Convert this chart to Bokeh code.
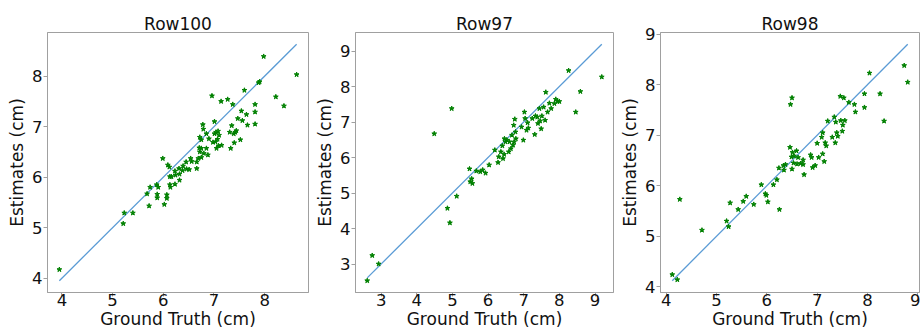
from bokeh.plotting import figure
from bokeh.layouts import row
from bokeh.models import FixedTicker, Range1d
from bokeh.embed import file_html
from bokeh.resources import INLINE

titles = ["Row100", "Row97", "Row98"]

row100_truth = [3.95, 5.21, 5.23, 5.40, 5.68, 5.72, 5.74, 5.87, 5.90, 5.88, 5.88, 5.99, 6.02, 6.07, 6.07,
                6.09, 6.12, 6.13, 6.13, 6.14, 6.16, 6.23, 6.23, 6.24, 6.31, 6.32, 6.38, 6.39, 6.45, 6.46,
                6.51, 6.32, 6.54, 6.56, 6.66, 6.66, 6.69, 6.71, 6.72, 6.72, 6.75, 6.75, 6.75, 6.78, 6.79,
                6.80, 6.85, 6.85, 6.88, 6.90, 6.96, 6.98, 7.01, 7.01, 7.03, 7.04, 7.05, 7.07, 7.08, 7.09,
                7.10, 7.14, 7.15, 7.27, 7.31, 7.33, 7.35, 7.37, 7.39, 7.40, 7.42, 7.44, 7.47, 7.52, 7.54,
                7.56, 7.60, 7.64, 7.66, 7.81, 7.81, 7.81, 7.88, 7.90, 7.98, 8.22, 8.38, 8.63]
row100_est = [4.17, 5.08, 5.29, 5.29, 5.67, 5.43, 5.80, 5.85, 5.80, 5.66, 5.59, 6.37, 5.46, 5.65, 5.58,
              6.24, 6.20, 6.01, 5.85, 5.80, 6.01, 6.12, 5.86, 6.04, 6.17, 6.06, 6.13, 6.22, 6.30, 6.16,
              6.15, 5.94, 6.37, 6.31, 6.30, 6.17, 6.37, 6.58, 6.50, 6.79, 6.74, 6.57, 6.39, 7.04, 6.95,
              6.47, 6.86, 6.57, 6.44, 6.76, 7.61, 6.69, 6.86, 7.10, 6.70, 6.89, 6.57, 6.75, 6.91, 6.62,
              6.83, 7.50, 6.63, 7.54, 6.89, 6.57, 7.02, 7.44, 6.86, 6.68, 6.89, 6.92, 7.16, 6.74, 7.31,
              7.12, 7.72, 7.24, 7.03, 7.44, 7.29, 7.05, 7.87, 7.89, 8.39, 7.59, 7.41, 8.03]

row97_truth = [2.61, 2.75, 2.93, 4.49, 4.86, 4.93, 4.98, 5.12, 5.48, 5.50, 5.54, 5.56, 5.67, 5.78, 5.85,
               5.93, 6.03, 6.19, 6.28, 6.30, 6.36, 6.40, 6.42, 6.45, 6.46, 6.49, 6.53, 6.58, 6.60, 6.64,
               6.67, 6.70, 6.72, 6.73, 6.75, 6.77, 6.78, 6.94, 6.99, 7.02, 7.04, 7.08, 7.11, 7.13, 7.24,
               7.31, 7.33, 7.38, 7.40, 7.44, 7.46, 7.49, 7.51, 7.56, 7.60, 7.62, 7.67, 7.72, 7.77, 7.86,
               7.90, 7.95, 8.00, 8.26, 8.46, 8.59, 9.19]
row97_est = [2.53, 3.24, 3.00, 6.67, 4.57, 4.16, 7.38, 4.91, 5.68, 5.32, 5.40, 5.27, 5.62, 5.60, 5.65,
             5.56, 5.79, 6.21, 5.86, 6.02, 6.16, 6.33, 5.97, 6.09, 6.53, 6.44, 6.49, 6.16, 6.44, 6.25,
             6.63, 6.35, 6.91, 6.44, 7.08, 6.72, 6.53, 6.86, 6.49, 7.28, 7.10, 6.77, 6.98, 6.83, 7.10,
             6.65, 7.17, 7.14, 6.96, 7.38, 7.03, 6.81, 7.17, 7.42, 7.05, 7.84, 7.28, 7.53, 7.38, 7.52,
             7.64, 7.58, 7.58, 8.45, 7.28, 7.86, 8.27]

row98_truth = [4.12, 4.22, 4.27, 4.71, 5.20, 5.24, 5.27, 5.43, 5.53, 5.59, 5.74, 5.89, 5.97, 5.99, 6.02,
               6.13, 6.20, 6.24, 6.25, 6.33, 6.34, 6.37, 6.46, 6.47, 6.49, 6.50, 6.50, 6.51, 6.53, 6.54,
               6.59, 6.60, 6.62, 6.67, 6.72, 6.72, 6.74, 6.87, 6.89, 6.91, 6.96, 7.00, 7.03, 7.09, 7.11,
               7.11, 7.14, 7.16, 7.18, 7.21, 7.30, 7.34, 7.36, 7.37, 7.39, 7.41, 7.46, 7.47, 7.50, 7.51,
               7.53, 7.55, 7.63, 7.74, 7.76, 7.94, 7.94, 8.04, 8.25, 8.33, 8.73, 8.80]
row98_est = [4.24, 4.14, 5.73, 5.12, 5.30, 5.19, 5.66, 5.53, 5.69, 5.79, 5.63, 6.02, 5.84, 5.81, 5.68,
             6.02, 6.12, 6.35, 5.53, 6.40, 6.31, 6.42, 6.76, 7.61, 6.57, 7.74, 6.33, 6.66, 6.45, 6.59,
             6.69, 6.43, 6.56, 6.44, 6.51, 6.42, 6.22, 6.61, 6.56, 6.36, 6.40, 6.84, 6.56, 6.96, 7.05,
             6.63, 6.48, 6.85, 6.79, 7.28, 6.96, 7.36, 6.85, 7.26, 7.05, 6.98, 7.77, 7.29, 7.08, 7.20,
             7.74, 7.29, 7.65, 7.61, 7.46, 7.82, 7.55, 8.23, 7.82, 7.28, 8.38, 8.05]

x_ticks = [[4, 5, 6, 7, 8], [3, 4, 5, 6, 7, 8, 9], [4, 5, 6, 7, 8, 9]]
y_ticks = [[4, 5, 6, 7, 8], [3, 4, 5, 6, 7, 8, 9], [4, 5, 6, 7, 8, 9]]

truths = [row100_truth, row97_truth, row98_truth]
ests = [row100_est, row97_est, row98_est]

FONT = "DejaVu Sans"
SPINE = "#a0a0a0"


def padded(lo, hi):
    m = (hi - lo) * 0.05
    return Range1d(lo - m, hi + m)


def make(i, width, left, right):
    gt = truths[i]
    es = ests[i]
    lo_line, hi_line = min(gt), max(gt)
    xr = padded(min(gt + [lo_line]), max(gt + [hi_line]))
    yr = padded(min(es + [lo_line]), max(es + [hi_line]))
    p = figure(width=width, height=332, output_backend="svg", toolbar_location=None,
               x_range=xr, y_range=yr, title=titles[i],
               min_border_left=left, min_border_right=right,
               min_border_top=32, min_border_bottom=40)
    p.line([lo_line, hi_line], [lo_line, hi_line], line_color="#5a9bd5", line_width=1.3)
    p.scatter(gt, es, marker="star", size=5, fill_color="green", line_color="green")

    p.title.align = "center"
    p.title.text_font = FONT
    p.title.text_font_size = "17px"
    p.title.text_font_style = "normal"
    p.title.text_color = "#111111"
    p.title.standoff = -2

    p.xgrid.visible = False
    p.ygrid.visible = False
    p.outline_line_color = SPINE
    p.outline_line_width = 1
    p.background_fill_color = "white"
    p.border_fill_color = "white"

    p.xaxis.ticker = FixedTicker(ticks=x_ticks[i])
    p.yaxis.ticker = FixedTicker(ticks=y_ticks[i])
    p.xaxis.axis_label = "Ground Truth (cm)"
    p.yaxis.axis_label = "Estimates (cm)"
    for ax in (p.xaxis, p.yaxis):
        ax.axis_line_color = SPINE
        ax.major_tick_line_color = SPINE
        ax.major_tick_out = 4
        ax.major_tick_in = 0
        ax.minor_tick_line_color = None
        ax.major_label_text_font = FONT
        ax.major_label_text_font_size = "16.5px"
        ax.major_label_text_color = "#111111"
        ax.axis_label_text_font = FONT
        ax.axis_label_text_font_size = "17px"
        ax.axis_label_text_font_style = "normal"
        ax.axis_label_text_color = "#111111"
    p.xaxis.major_label_standoff = -3
    p.xaxis.axis_label_standoff = 0
    p.yaxis.major_label_standoff = 1
    p.yaxis.axis_label_standoff = 2
    return p


p1 = make(0, 312, 47, 4)
p2 = make(1, 305, 39, 4)
p3 = make(2, 303, 41, 1)

layout = row(p1, p2, p3)
open("out.html", "w").write(file_html(layout, INLINE))
